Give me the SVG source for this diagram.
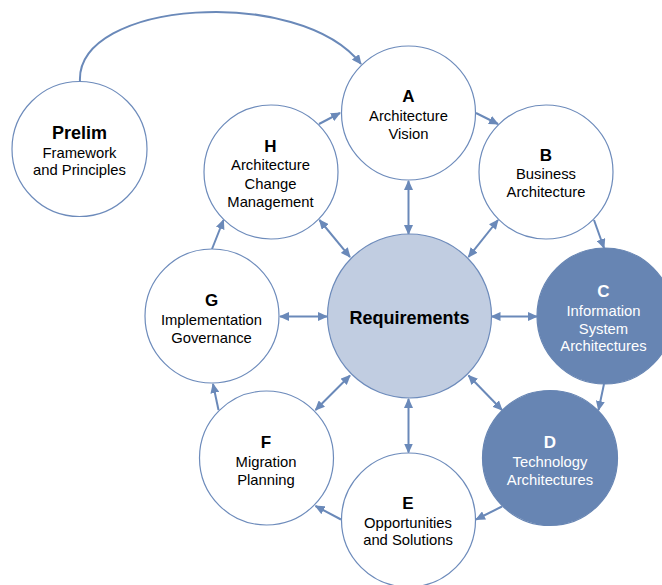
<svg xmlns="http://www.w3.org/2000/svg" width="662" height="585" viewBox="0 0 662 585">
<style>
.c{fill:#fff;stroke:#6d8bbb;stroke-width:1.2}
.req{fill:#c1cde1;stroke:#6d8bbb;stroke-width:1.2}
.dk{fill:#6785b3;stroke:#6785b3;stroke-width:1.2}
text{font-family:"Liberation Sans",Arial,sans-serif;text-anchor:middle;fill:#000}
.l{font-size:17px;font-weight:bold}
.t{font-size:14.8px}
.w{fill:#fff}
.cn line,.cn path{stroke:#6a89b9;stroke-width:2;fill:none}
</style>
<defs>
<marker id="ah" markerUnits="userSpaceOnUse" markerWidth="10" markerHeight="9" refX="9" refY="4.5" orient="auto-start-reverse">
<path d="M0,0 L10,4.5 L0,9 z" fill="#6a89b9"/>
</marker>
</defs>
<g class="cn" id="connectors">
<path d="M80,82 C75,0 300,-15 361,64" marker-end="url(#ah)"/>
<line x1="319" y1="124" x2="340" y2="113" marker-end="url(#ah)"/>
<line x1="476" y1="113" x2="498" y2="124" marker-end="url(#ah)"/>
<line x1="408.5" y1="181" x2="408.5" y2="234" marker-start="url(#ah)" marker-end="url(#ah)"/>
<line x1="319.5" y1="220" x2="350" y2="257" marker-start="url(#ah)" marker-end="url(#ah)"/>
<line x1="498" y1="220" x2="468.5" y2="257" marker-start="url(#ah)" marker-end="url(#ah)"/>
<line x1="594" y1="220" x2="604" y2="248" marker-end="url(#ah)"/>
<line x1="212" y1="249" x2="223.5" y2="220" marker-end="url(#ah)"/>
<line x1="280" y1="316.5" x2="327" y2="316.5" marker-start="url(#ah)" marker-end="url(#ah)"/>
<line x1="491.5" y1="316.5" x2="537" y2="316.5" marker-start="url(#ah)" marker-end="url(#ah)"/>
<line x1="218.5" y1="410" x2="213" y2="384" marker-end="url(#ah)"/>
<line x1="315.5" y1="410" x2="350" y2="375.5" marker-start="url(#ah)" marker-end="url(#ah)"/>
<line x1="468.5" y1="375.5" x2="502" y2="410" marker-start="url(#ah)" marker-end="url(#ah)"/>
<line x1="408.5" y1="399" x2="408.5" y2="452.5" marker-start="url(#ah)" marker-end="url(#ah)"/>
<line x1="604" y1="384" x2="598.5" y2="410" marker-end="url(#ah)"/>
<line x1="502" y1="506.5" x2="476" y2="519.5" marker-end="url(#ah)"/>
<line x1="341" y1="519.5" x2="315.5" y2="506" marker-end="url(#ah)"/>
</g>
<g id="prelim">
<circle class="c" cx="79.5" cy="149" r="67.5"/>
<text class="l" x="79.5" y="139" style="font-size:18px">Prelim</text>
<text class="t" x="79.5" y="157.5">Framework</text>
<text class="t" x="79.5" y="174.5">and Principles</text>
</g>
<g id="nodeA">
<circle class="c" cx="408.5" cy="113" r="67"/>
<text class="l" x="408.5" y="102">A</text>
<text class="t" x="408.5" y="120.5">Architecture</text>
<text class="t" x="408.5" y="138.5">Vision</text>
</g>
<g id="nodeB">
<circle class="c" cx="546" cy="172" r="67"/>
<text class="l" x="546" y="160.5">B</text>
<text class="t" x="546" y="179">Business</text>
<text class="t" x="546" y="197">Architecture</text>
</g>
<g id="nodeH">
<circle class="c" cx="271" cy="172" r="67"/>
<text class="l" x="270.5" y="152">H</text>
<text class="t" x="270.5" y="170">Architecture</text>
<text class="t" x="270.5" y="188.5">Change</text>
<text class="t" x="270.5" y="206.5">Management</text>
</g>
<g id="requirements">
<circle class="req" cx="409.5" cy="316" r="82"/>
<text class="l" x="409.5" y="324" style="font-size:18px">Requirements</text>
</g>
<g id="nodeG">
<circle class="c" cx="212" cy="316" r="67"/>
<text class="l" x="211.5" y="306">G</text>
<text class="t" x="211.5" y="324.5">Implementation</text>
<text class="t" x="211.5" y="342.5">Governance</text>
</g>
<g id="nodeC">
<circle class="dk" cx="605" cy="316" r="68"/>
<text class="l w" x="603.5" y="297">C</text>
<text class="t w" x="603.5" y="315.5">Information</text>
<text class="t w" x="603.5" y="333.5">System</text>
<text class="t w" x="603.5" y="351">Architectures</text>
</g>
<g id="nodeF">
<circle class="c" cx="266.5" cy="458" r="67"/>
<text class="l" x="266" y="448">F</text>
<text class="t" x="266" y="466.5">Migration</text>
<text class="t" x="266" y="484.5">Planning</text>
</g>
<g id="nodeD">
<circle class="dk" cx="550" cy="458" r="67.5"/>
<text class="l w" x="550" y="448">D</text>
<text class="t w" x="550" y="466.5">Technology</text>
<text class="t w" x="550" y="484.5">Architectures</text>
</g>
<g id="nodeE">
<circle class="c" cx="408.5" cy="520" r="67"/>
<text class="l" x="408" y="508.5">E</text>
<text class="t" x="408" y="528">Opportunities</text>
<text class="t" x="408" y="545">and Solutions</text>
</g>
</svg>
